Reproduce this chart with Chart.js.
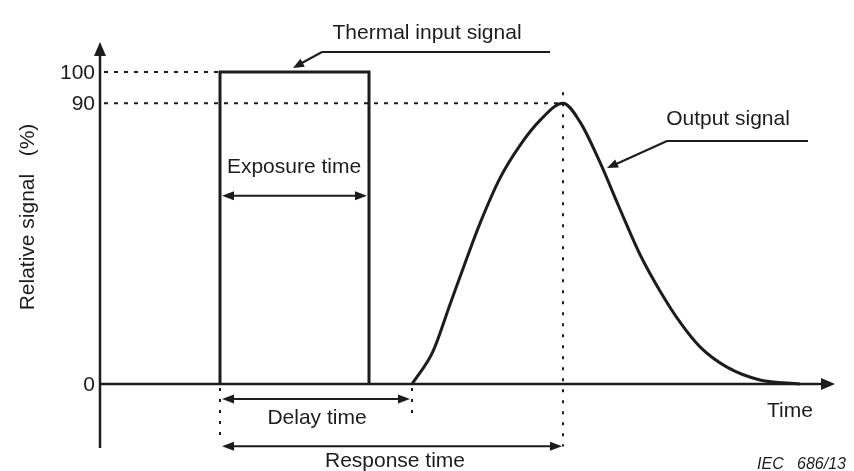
<!DOCTYPE html>
<html>
<head>
<meta charset="utf-8">
<script src="https://cdn.jsdelivr.net/npm/chart.js@4"></script>
<style>
  html, body { margin: 0; padding: 0; background: #fff; }
  canvas { display: block; }
</style>
</head>
<body>
<canvas id="responseChart" width="854" height="471"></canvas>
<script>
// values (x in arbitrary time units, y in %)
const tickValues = [0, 90, 100];
const tickLabels = ["0", "90", "100"];

const inputX = [12, 12, 26.9, 26.9];
const inputY = [0, 100, 100, 0];

const outputX = [31.2, 33.3, 35.0, 36.7, 38.0, 40.0, 42.0, 44.0, 46.3, 48.0, 50.0, 52.0, 54.0, 56.0, 58.0, 60.0, 62.7, 66.0, 70.0];
const outputY = [0, 10.5, 25.5, 40.5, 51.5, 66.0, 76.5, 84.5, 90, 84.0, 71.0, 56.0, 41.5, 29.8, 19.8, 11.9, 5.4, 1.3, 0];

const labels = {
  yTitle: "Relative signal   (%)",
  xTitle: "Time",
  input: "Thermal input signal",
  output: "Output signal",
  exposure: "Exposure time",
  delay: "Delay time",
  response: "Response time",
  source: "IEC   686/13"
};

const ink = "#1c1c1c";
const font = '21px "Liberation Sans", Arial, sans-serif';

const ctx = document.getElementById("responseChart");

function line(c, x1, y1, x2, y2) {
  c.beginPath();
  c.moveTo(x1, y1);
  c.lineTo(x2, y2);
  c.stroke();
}

function head(c, x, y, ang, len, half) {
  c.beginPath();
  c.moveTo(x, y);
  c.lineTo(x - len * Math.cos(ang) - half * Math.sin(ang), y - len * Math.sin(ang) + half * Math.cos(ang));
  c.lineTo(x - len * Math.cos(ang) + half * Math.sin(ang), y - len * Math.sin(ang) - half * Math.cos(ang));
  c.closePath();
  c.fill();
}

function span(c, x1, x2, y) {
  line(c, x1 + 6, y, x2 - 6, y);
  head(c, x1, y, Math.PI, 12, 4.5);
  head(c, x2, y, 0, 12, 4.5);
}

const peak = outputY.indexOf(Math.max(...outputY));

const diagram = {
  id: "diagram",
  beforeDatasetsDraw(chart) {
    const c = chart.ctx;
    const { x, y } = chart.scales;
    const px = (v) => x.getPixelForValue(v);
    const py = (v) => y.getPixelForValue(v);
    const x0 = px(0), y0 = py(0);

    c.save();
    c.strokeStyle = ink;
    c.fillStyle = ink;

    // guide lines
    c.lineWidth = 2;
    c.setLineDash([4, 6]);
    line(c, x0 + 4, py(100), px(inputX[1]), py(100));
    line(c, x0 + 4, py(90), px(outputX[peak]), py(90));
    c.setLineDash([3, 8]);
    line(c, px(outputX[peak]), py(93.5), px(outputX[peak]), py(-20));
    line(c, px(inputX[0]), y0 + 4, px(inputX[0]), py(-18.5));
    line(c, px(outputX[0]), y0 + 4, px(outputX[0]), py(-10.5));
    c.setLineDash([]);

    // axes
    c.lineWidth = 2.5;
    line(c, x0, py(-20.5), x0, chart.chartArea.top + 10);
    head(c, x0, chart.chartArea.top, -Math.PI / 2, 14, 6);
    line(c, x0, y0, chart.chartArea.right - 10, y0);
    head(c, chart.chartArea.right, y0, 0, 14, 6);

    // time spans
    c.lineWidth = 2;
    span(c, px(inputX[0]) + 2, px(inputX[2]) - 2, py(60.3));
    span(c, px(inputX[0]) + 2, px(outputX[0]) - 2, py(-4.8));
    line(c, px(inputX[0]) + 8, py(-19.9), px(outputX[peak]) - 8, py(-19.9));
    head(c, px(inputX[0]) + 2, py(-19.9), Math.PI, 12, 4.5);
    head(c, px(outputX[peak]) - 1, py(-19.9), 0, 12, 4.5);

    // leader lines
    line(c, 550, 52, 322, 52);
    line(c, 322, 52, 300, 64);
    head(c, 293, 68, Math.atan2(68 - 52, 293 - 322), 11, 4.5);
    line(c, 808, 141, 667, 141);
    line(c, 667, 141, 614, 165);
    head(c, 607, 168, Math.atan2(168 - 141, 607 - 667), 11, 4.5);

    // text
    c.font = font;
    c.textBaseline = "middle";
    c.textAlign = "right";
    tickValues.forEach((v, i) => c.fillText(tickLabels[i], 95, py(v) + 1));
    c.textBaseline = "alphabetic";
    c.textAlign = "center";
    c.fillText(labels.input, 427, 39);
    c.fillText(labels.output, 728, 125);
    c.fillText(labels.exposure, 294, 173);
    c.fillText(labels.delay, 317, 424);
    c.fillText(labels.response, 395, 467);
    c.textAlign = "left";
    c.fillText(labels.xTitle, 767, 417);
    c.textAlign = "right";
    c.font = 'italic 16px "Liberation Sans", Arial, sans-serif';
    c.fillText(labels.source, 846, 469);

    c.font = font;
    c.translate(34, 217);
    c.rotate(-Math.PI / 2);
    c.textAlign = "center";
    c.fillText(labels.yTitle, 0, 0);
    c.restore();
  }
};

new Chart(ctx, {
  type: "scatter",
  data: {
    datasets: [
      {
        label: labels.input,
        data: inputX.map((v, i) => ({ x: v, y: inputY[i] })),
        showLine: true,
        borderColor: ink,
        borderWidth: 3,
        pointRadius: 0,
        tension: 0
      },
      {
        label: labels.output,
        data: outputX.map((v, i) => ({ x: v, y: outputY[i] })),
        showLine: true,
        borderColor: ink,
        borderWidth: 3,
        pointRadius: 0,
        cubicInterpolationMode: "monotone"
      }
    ]
  },
  options: {
    responsive: false,
    animation: false,
    devicePixelRatio: 1,
    layout: { padding: { left: 100, right: 19, top: 42, bottom: 23 } },
    plugins: {
      legend: { display: false },
      tooltip: { enabled: false }
    },
    scales: {
      x: { type: "linear", min: 0, max: 73.5, display: false },
      y: { type: "linear", min: -20.5, max: 109.6, display: false }
    }
  },
  plugins: [diagram]
});
</script>
</body>
</html>
